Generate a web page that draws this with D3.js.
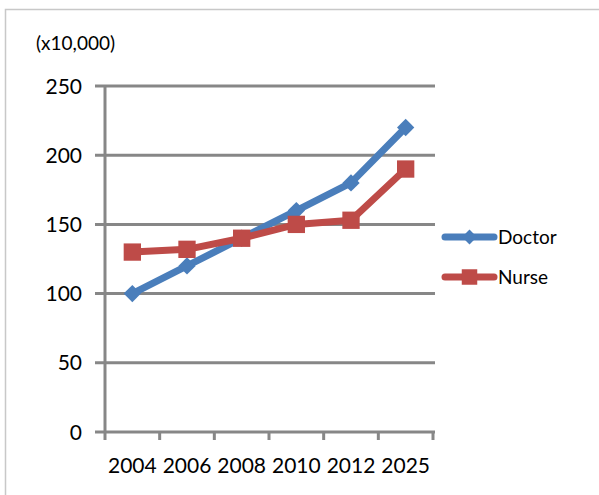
<!DOCTYPE html>
<html>
<head>
<meta charset="utf-8">
<script src="https://cdnjs.cloudflare.com/ajax/libs/d3/7.8.5/d3.min.js"></script>
<style>
  body { margin: 0; padding: 0; background: #fff; }
  text { font-family: Lato, "Open Sans", sans-serif; fill: #000; }
</style>
</head>
<body>
<script>
  // chart data
  var years = ["2004", "2006", "2008", "2010", "2012", "2025"];
  var doctor = [100, 120, 140, 160, 180, 220];
  var nurse = [130, 132, 140, 150, 153, 190];
  var yTicks = [0, 50, 100, 150, 200, 250];

  var w = 599, h = 495;
  var plotL = 105, plotR = 433, plotT = 86, plotB = 432;

  var svg = d3.select("body").append("svg")
      .attr("width", w)
      .attr("height", h);

  // outer frame (only left and top edges visible)
  svg.append("rect")
      .attr("x", 5.5).attr("y", 9.5)
      .attr("width", w + 20).attr("height", h + 20)
      .attr("fill", "none")
      .attr("stroke", "#c8c8c8")
      .attr("stroke-width", 1.5);

  var x = d3.scaleBand().domain(years).range([plotL, plotR]);
  var y = d3.scaleLinear().domain([0, 250]).range([plotB, plotT]);

  // gridlines
  svg.append("g")
    .selectAll("line")
    .data(yTicks)
    .enter().append("line")
      .attr("x1", plotL - 10)
      .attr("x2", plotR + 2)
      .attr("y1", function(d) { return y(d); })
      .attr("y2", function(d) { return y(d); })
      .attr("stroke", "#878787")
      .attr("stroke-width", 3);

  // y axis line
  svg.append("line")
      .attr("x1", plotL).attr("x2", plotL)
      .attr("y1", plotT).attr("y2", plotB)
      .attr("stroke", "#878787")
      .attr("stroke-width", 3);

  // y labels
  svg.append("g")
    .selectAll("text")
    .data(yTicks)
    .enter().append("text")
      .attr("x", 82)
      .attr("y", function(d) { return y(d); })
      .attr("dy", "0.36em")
      .attr("text-anchor", "end")
      .attr("font-size", "21px")
      .text(function(d) { return d; });

  // x ticks
  var xTickPos = years.map(function(d) { return x(d); }).concat([plotR]);
  svg.append("g")
    .selectAll("line")
    .data(xTickPos)
    .enter().append("line")
      .attr("x1", function(d) { return d; })
      .attr("x2", function(d) { return d; })
      .attr("y1", plotB)
      .attr("y2", plotB + 8)
      .attr("stroke", "#878787")
      .attr("stroke-width", 3);

  svg.append("g")
    .selectAll("text")
    .data(years)
    .enter().append("text")
      .attr("x", function(d) { return x(d) + x.bandwidth() / 2; })
      .attr("y", 473)
      .attr("text-anchor", "middle")
      .attr("font-size", "21px")
      .text(function(d) { return d; });

  svg.append("text")
      .attr("x", 36).attr("y", 50)
      .attr("font-size", "19px")
      .text("(x10,000)");

  var line = d3.line()
      .x(function(d, i) { return x(years[i]) + x.bandwidth() / 2; })
      .y(function(d) { return y(d); });

  // diamond = square turned 45 degrees
  var series = [
    { name: "Doctor", values: doctor, color: "#4a7ebb", size: 150, legSize: 110, rot: 45 },
    { name: "Nurse", values: nurse, color: "#be4b48", size: 300, legSize: 240, rot: 0 }
  ];

  series.forEach(function(s, k) {
    svg.append("path")
        .datum(s.values)
        .attr("d", line)
        .attr("fill", "none")
        .attr("stroke", s.color)
        .attr("stroke-width", 7)
        .attr("stroke-linejoin", "round");

    svg.append("g")
      .selectAll("path")
      .data(s.values)
      .enter().append("path")
        .attr("transform", function(d, i) {
          return "translate(" + (x(years[i]) + x.bandwidth() / 2) + "," + y(d) + ") rotate(" + s.rot + ")";
        })
        .attr("d", d3.symbol().type(d3.symbolSquare).size(s.size))
        .attr("fill", s.color);

    // legend
    var ly = 237 + k * 40;
    svg.append("line")
        .attr("x1", 445).attr("x2", 494)
        .attr("y1", ly).attr("y2", ly)
        .attr("stroke", s.color)
        .attr("stroke-width", 7)
        .attr("stroke-linecap", "round");
    svg.append("path")
        .attr("transform", "translate(469.5," + ly + ") rotate(" + s.rot + ")")
        .attr("d", d3.symbol().type(d3.symbolSquare).size(s.legSize))
        .attr("fill", s.color);
    svg.append("text")
        .attr("x", 498).attr("y", ly)
        .attr("dy", "0.36em")
        .attr("font-size", "19px")
        .text(s.name);
  });
</script>
</body>
</html>
